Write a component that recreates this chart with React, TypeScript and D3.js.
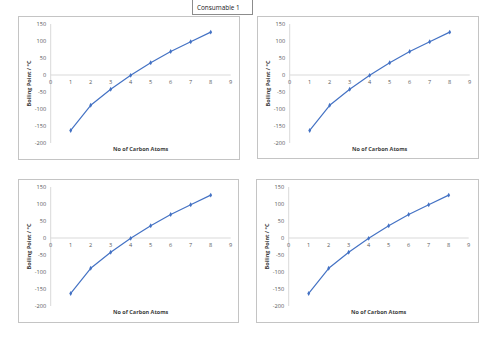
import React from "react";
import * as d3 from "d3";

const carbonAtoms = [1, 2, 3, 4, 5, 6, 7, 8];
const boilingPoints = [-163, -89, -42, -1, 36, 69, 98, 126];
const yTicks = [-200, -150, -100, -50, 0, 50, 100, 150];
const xTicks = [0, 1, 2, 3, 4, 5, 6, 7, 8, 9];
const titleText = "Consumable 1";
const xTitle = "No of Carbon Atoms";
const yTitle = "Boiling Point / \u00b0C";

const frames = [
  { x: 18, y: 16, w: 221, h: 143 },
  { x: 257, y: 16, w: 221, h: 142 },
  { x: 18, y: 179, w: 220, h: 143 },
  { x: 256, y: 179, w: 222, h: 143 },
];

const FONT = "'Open Sans', 'Liberation Sans', sans-serif";
const BLUE = "#4472C4";

function Chart({ f }: { f: { x: number; y: number; w: number; h: number } }) {
  const ox = f.x + 32.7;
  const x = d3.scaleLinear().domain([0, 9]).range([ox, ox + 180]);
  const y = d3.scaleLinear().domain([-200, 150]).range([f.y + 127, f.y + 8]);
  const line = d3
    .line<number>()
    .x((_, i) => x(carbonAtoms[i]))
    .y((d) => y(d));
  const diamond = d3.symbol().type(d3.symbolDiamond).size(7)();
  return (
    <g>
      <rect x={f.x + 0.5} y={f.y + 0.5} width={f.w} height={f.h} fill="#fff" stroke="#c4c4c4" strokeWidth={1} />
      <line x1={x(0)} x2={x(0)} y1={y(150)} y2={y(-200)} stroke="#d9d9d9" strokeWidth={1} />
      <line x1={x(0)} x2={x(9)} y1={y(0)} y2={y(0)} stroke="#d9d9d9" strokeWidth={1} />
      {yTicks.map((t) => (
        <text key={"y" + t} x={x(0) - 4.5} y={y(t)} dy="0.35em" textAnchor="end" fontSize={5.6} fill="#595959" fontFamily={FONT}>
          {t}
        </text>
      ))}
      {xTicks.map((t) => (
        <text key={"x" + t} x={x(t)} y={y(0) + 7.5} dy="0.35em" textAnchor="middle" fontSize={5.6} fill="#595959" fontFamily={FONT}>
          {t}
        </text>
      ))}
      <path d={line(boilingPoints) || ""} fill="none" stroke={BLUE} strokeWidth={1.2} strokeLinejoin="round" />
      {boilingPoints.map((v, i) => (
        <path key={i} d={diamond || ""} transform={`translate(${x(carbonAtoms[i])},${y(v)})`} fill={BLUE} />
      ))}
      <text x={(x(0) + x(9)) / 2} y={f.y + 133} dy="0.35em" textAnchor="middle" fontSize={5.5} fontWeight="bold" fill="#404040" fontFamily={FONT}>
        {xTitle}
      </text>
      <text
        transform={`translate(${f.x + 11},${(y(150) + y(-200)) / 2}) rotate(-90)`}
        dy="0.35em"
        textAnchor="middle"
        fontSize={5.5}
        fontWeight="bold"
        fill="#404040"
        fontFamily={FONT}
      >
        {yTitle}
      </text>
    </g>
  );
}

export default function App() {
  return (
    <svg width={500} height={354} style={{ position: "absolute", left: 0, top: 0, display: "block" }}>
      <rect x={0} y={0} width={500} height={354} fill="#fff" />
      {frames.map((f, i) => (
        <Chart key={i} f={f} />
      ))}
      <rect x={192.5} y={-1} width={60} height={15.5} fill="#fff" stroke="#8c8c8c" strokeWidth={1} />
      <text x={197} y={7.5} dy="0.35em" fontSize={6.4} fill="#202020" fontFamily={FONT}>
        {titleText}
      </text>
    </svg>
  );
}
